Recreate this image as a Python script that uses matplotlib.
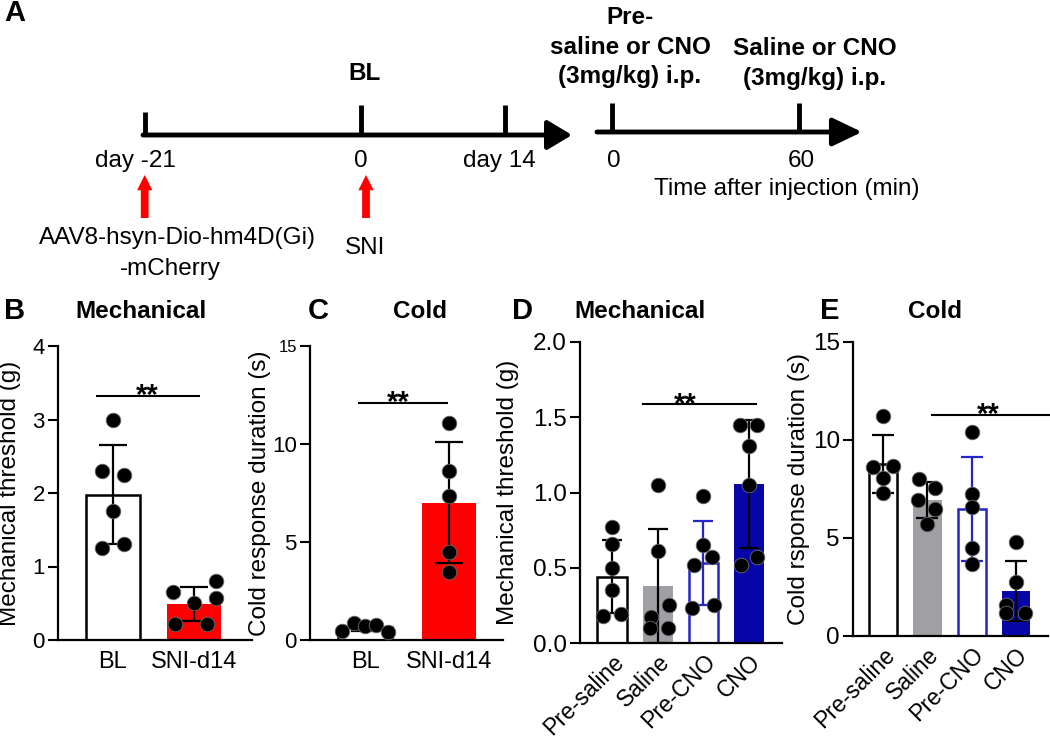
import numpy as np
import matplotlib
matplotlib.use('Agg')
from matplotlib import pyplot as plt

plt.rcParams['font.family'] = ['Liberation Sans', 'DejaVu Sans']

W, H = 1050, 739

# ---- panel A: timeline ----
tl_days = [-21, 0, 14]
tl_day_labels = ['day -21', '0', 'day 14']
tl_mins = [0, 60]
tl_min_labels = ['0', '60']
injections = ['AAV8-hsyn-Dio-hm4D(Gi)\n-mCherry', 'SNI']
injection_days = [-21, 0]

# ---- panel B: mechanical, BL vs SNI-d14 ----
b_groups = ['BL', 'SNI-d14']
b_points = [[3.0, 2.3, 2.25, 1.75, 1.25, 1.3],
            [0.65, 0.8, 0.57, 0.5, 0.22, 0.22]]

# ---- panel C: cold, BL vs SNI-d14 ----
c_groups = ['BL', 'SNI-d14']
c_points = [[0.45, 0.85, 0.72, 0.78, 0.4],
            [11.07, 8.6, 7.35, 4.5, 3.47]]

# ---- panel D: mechanical after injection ----
d_groups = ['Pre-saline', 'Saline', 'Pre-CNO', 'CNO']
d_points = [[0.77, 0.66, 0.5, 0.35, 0.18, 0.19],
            [1.05, 0.61, 0.25, 0.17, 0.1, 0.1],
            [0.98, 0.65, 0.57, 0.52, 0.25, 0.23],
            [1.45, 1.45, 1.31, 1.05, 0.52, 0.57]]

# ---- panel E: cold after injection ----
e_groups = ['Pre-saline', 'Saline', 'Pre-CNO', 'CNO']
e_points = [[11.2, 8.64, 8.67, 8.04, 7.28],
            [7.99, 7.57, 6.94, 6.48, 5.71],
            [10.43, 7.24, 6.6, 4.47, 3.67],
            [4.81, 2.77, 1.58, 1.16, 1.16]]

# dot spread inside each bar (category units)
b_jit = [[0, -0.14, 0.14, 0, -0.14, 0.14], [-0.26, 0.27, 0.27, 0, -0.23, 0.16]]
c_jit = [[-0.27, -0.13, 0, 0.13, 0.27], [0, 0, 0, 0, 0]]
d_jit = [[0, 0, 0, 0, -0.2, 0.2], [0, 0, 0.24, -0.15, -0.17, 0.23],
         [0, 0, 0.19, -0.2, 0.23, -0.25], [-0.2, 0.18, 0, 0, -0.18, 0.18]]
e_jit = [[0, -0.22, 0.22, 0, 0], [-0.19, 0.17, -0.22, 0.17, 0],
         [0, 0, 0, 0, 0], [0, 0, -0.22, -0.22, 0.21]]

RED = '#ff0000'
GRAY = '#a0a0a4'
BLUE = '#2424c8'
NAVY = '#0505a8'

fig = plt.figure(figsize=(W / 100, H / 100), dpi=100)


def px_axes(l, t, r, b):
    return fig.add_axes([l / W, 1 - b / H, (r - l) / W, (b - t) / H])


def ftext(x, y, s, **kw):
    fig.text(x / W, 1 - y / H, s, **kw)


# panel A drawn in pixel space
ax = fig.add_axes([0, 0, 1, 1])
ax.set_xlim(0, W)
ax.set_ylim(H, 0)
ax.axis('off')


def day_x(d):
    return 361 + 10.3 * d


def min_x(m):
    return 612 + 3.12 * m


ax.annotate('', xy=(572, 135), xytext=(143, 135),
            arrowprops=dict(arrowstyle='-|>,head_length=0.75,head_width=0.45',
                            lw=3.5, color='k', mutation_scale=20, shrinkA=0, shrinkB=0))
tick_top = [112, 105, 105]
label_dx = [-9, 0, -6]
for d, lab, tt, dx in zip(tl_days, tl_day_labels, tick_top, label_dx):
    ax.plot([day_x(d), day_x(d)], [tt, 136], color='k', lw=3.5, solid_capstyle='butt')
    ax.text(day_x(d) + dx, 167, lab, ha='center', va='baseline', fontsize=17.5)

ax.annotate('', xy=(862, 132), xytext=(597, 132),
            arrowprops=dict(arrowstyle='-|>,head_length=0.9,head_width=0.43',
                            lw=3.5, color='k', mutation_scale=20, shrinkA=0, shrinkB=0))
for m, lab in zip(tl_mins, tl_min_labels):
    ax.plot([min_x(m), min_x(m)], [103, 133], color='k', lw=3.5, solid_capstyle='butt')
    ax.text(min_x(m) + 2, 167, lab, ha='center', va='baseline', fontsize=17.5)
ax.text(787, 195, 'Time after injection (min)', ha='center', va='baseline', fontsize=17.5)

for d, lab in zip(injection_days, injections):
    x = day_x(d) + (0 if d < 0 else 5)
    ax.annotate('', xy=(x, 175), xytext=(x, 218),
                arrowprops=dict(arrowstyle='simple,head_length=0.55,head_width=0.55,tail_width=0.28',
                                fc=RED, ec='none', mutation_scale=20, shrinkA=0, shrinkB=0))
ax.text(177, 244, 'AAV8-hsyn-Dio-hm4D(Gi)', ha='center', va='baseline', fontsize=17.5)
ax.text(170, 275, '-mCherry', ha='center', va='baseline', fontsize=17.5)
ax.text(365, 254, 'SNI', ha='center', va='baseline', fontsize=17.5)

ax.text(365, 80, 'BL', ha='center', va='baseline', fontsize=17.5, fontweight='bold')
ax.text(630, 24, 'Pre-', ha='center', va='baseline', fontsize=17.5, fontweight='bold')
ax.text(630, 54, 'saline or CNO', ha='center', va='baseline', fontsize=17.5, fontweight='bold')
ax.text(630, 83, '(3mg/kg) i.p.', ha='center', va='baseline', fontsize=17.5, fontweight='bold')
ax.text(815, 55, 'Saline or CNO', ha='center', va='baseline', fontsize=17.5, fontweight='bold')
ax.text(815, 85, '(3mg/kg) i.p.', ha='center', va='baseline', fontsize=17.5, fontweight='bold')

# panel letters and titles
ftext(15, 13, 'A', ha='center', va='center', fontsize=21, fontweight='bold')
for (x, s) in [(15, 'B'), (318, 'C'), (523, 'D'), (830, 'E')]:
    ftext(x, 311, s, ha='center', va='center', fontsize=21, fontweight='bold')
for (x, s) in [(141, 'Mechanical'), (420, 'Cold'), (640, 'Mechanical'), (935, 'Cold')]:
    ftext(x, 311, s, ha='center', va='center', fontsize=17.5, fontweight='bold')


def bar_panel(ax, groups, points, jit, faces, edges, errc, width, capsize,
              ylim, yticks, ylabel, label_x, sig, tick_fs, xrot=0):
    for i, vals in enumerate(points):
        vals = np.array(vals)
        m = vals.mean()
        s = vals.std(ddof=1)
        ax.bar(i, m, width, color=faces[i], edgecolor=edges[i],
               linewidth=1.8 if edges[i] != 'none' else 0, zorder=1)
        ax.errorbar(i, m, yerr=s, color=errc[i], capsize=capsize, elinewidth=1.6,
                    capthick=1.6, zorder=2)
        ax.plot(i + np.array(jit[i]), vals, 'o', ms=10.5, color='k',
                mec='#6a6a6a', mew=0.6, zorder=3, clip_on=False)
    x1, x2, y, xs = sig
    ax.plot([x1, x2], [y, y], color='k', lw=1.5, clip_on=False)
    ax.annotate('**', xy=(xs, y), xytext=(0, -6), textcoords='offset points',
                ha='center', va='baseline', fontsize=21, fontweight='bold')
    ax.set_ylim(*ylim)
    ax.set_yticks(yticks)
    ax.set_xticks(range(len(groups)))
    if xrot:
        ax.set_xticklabels(groups, rotation=xrot, ha='right', rotation_mode='anchor',
                           fontsize=16.5)
        ax.tick_params(axis='x', length=0, pad=5)
    else:
        ax.set_xticklabels(groups, fontsize=17)
        ax.tick_params(axis='x', length=0, pad=8)
    ax.tick_params(axis='y', length=7.5, width=1.5, pad=2, labelsize=tick_fs)
    for sp in ['top', 'right']:
        ax.spines[sp].set_visible(False)
    for sp in ['left', 'bottom']:
        ax.spines[sp].set_linewidth(1.6)
    ax.set_ylabel(ylabel, fontsize=17.5)
    ax.yaxis.set_label_coords(label_x, 0.5)


axb = px_axes(58, 346, 252, 640)
bar_panel(axb, b_groups, b_points, b_jit, ['white', RED], ['k', 'none'], ['k', 'k'],
          0.67, 10, (0, 4), [0, 1, 2, 3, 4], 'Mechanical threshold (g)', -0.19,
          (-0.2, 1.07, 3.32, 0.42), 16)
axb.set_xlim(-0.68, 1.72)

axc = px_axes(310, 346, 503, 640)
bar_panel(axc, c_groups, c_points, c_jit, ['white', RED], ['k', 'none'], ['k', 'k'],
          0.64, 10, (0, 15), [0, 5, 10, 15], 'Cold response duration (s)', -0.2,
          (-0.07, 0.98, 12.1, 0.4), 16)
axc.set_xlim(-0.655, 1.64)
axc.get_yticklabels()[-1].set_fontsize(12)

axd = px_axes(580, 342, 782, 643)
bar_panel(axd, d_groups, d_points, d_jit, ['white', GRAY, 'white', NAVY],
          ['k', 'none', BLUE, 'none'], ['k', 'k', BLUE, 'k'],
          0.65, 7.5, (0, 2.0), [0, 0.5, 1.0, 1.5, 2.0], 'Mechanical threshold (g)', -0.30,
          (0.68, 3.15, 1.585, 1.6), 17.5, xrot=45)
axd.set_xlim(-0.7, 3.72)
axd.yaxis.set_major_formatter(matplotlib.ticker.FormatStrFormatter('%.1f'))

axe = px_axes(853, 342, 1048, 636)
bar_panel(axe, e_groups, e_points, e_jit, ['white', GRAY, 'white', NAVY],
          ['k', 'none', BLUE, 'none'], ['k', 'k', BLUE, 'k'],
          0.64, 8, (0, 15), [0, 5, 10, 15], 'Cold rsponse duration (s)', -0.22,
          (1.1, 3.77, 11.3, 2.37), 17.5, xrot=45)
axe.set_xlim(-0.68, 3.72)

fig.savefig('out.png', dpi=100)
